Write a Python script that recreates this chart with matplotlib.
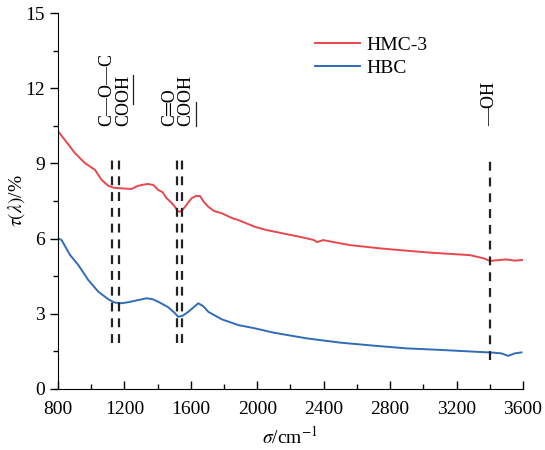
import matplotlib
matplotlib.use("Agg")
import matplotlib.pyplot as plt
from matplotlib.ticker import MultipleLocator

# 读图估计的数据（波数 / cm^-1, 透过率 %）
hmc_x = [800, 842, 902, 963, 1023, 1063, 1100, 1133, 1190, 1243, 1280, 1304,
         1340, 1374, 1404, 1430, 1454, 1480, 1504, 1520, 1534, 1550, 1565,
         1585, 1605, 1630, 1655, 1680, 1705, 1740, 1786, 1855, 1886, 1986,
         2056, 2160, 2257, 2337, 2360, 2397, 2558, 2739, 2859, 3040, 3280,
         3360, 3401, 3450, 3501, 3550, 3601]
hmc_y = [10.29, 9.93, 9.41, 9.01, 8.74, 8.34, 8.12, 8.03, 8.00, 7.98, 8.10, 8.14,
         8.18, 8.14, 7.94, 7.85, 7.61, 7.45, 7.27, 7.10, 7.07, 7.15, 7.27,
         7.45, 7.61, 7.70, 7.70, 7.45, 7.27, 7.10, 7.01, 6.80, 6.74, 6.47,
         6.34, 6.20, 6.07, 5.95, 5.86, 5.94, 5.74, 5.61, 5.54, 5.44, 5.34,
         5.22, 5.11, 5.14, 5.17, 5.12, 5.15]

hbc_x = [800, 822, 872, 922, 982, 1043, 1103, 1140, 1183, 1230, 1264, 1334,
         1370, 1404, 1464, 1500, 1524, 1550, 1585, 1615, 1645, 1675, 1705,
         1786, 1886, 1986, 2096, 2297, 2498, 2698, 2899, 3100, 3300, 3421,
         3470, 3511, 3550, 3591]
hbc_y = [6.01, 5.94, 5.35, 4.95, 4.35, 3.88, 3.58, 3.45, 3.42, 3.47, 3.52, 3.62,
         3.58, 3.48, 3.26, 3.05, 2.88, 2.92, 3.08, 3.25, 3.42, 3.30, 3.08,
         2.78, 2.55, 2.42, 2.25, 2.02, 1.85, 1.73, 1.62, 1.56, 1.49, 1.45,
         1.42, 1.32, 1.42, 1.46]

# 特征峰位置与标注
peak_x = [1127, 1169, 1514, 1548, 3400]
peak_ymin = [1.83, 1.83, 1.83, 1.83, 1.15]
peak_ymax = [9.3, 9.3, 9.3, 9.3, 9.35]
label_text = ["C\u2014O\u2014C", "COOH", "C\u2550O", "COOH", "\u2014OH"]
label_x = [1095, 1197, 1474, 1571, 3401]

plt.rcParams.update({
    "font.family": ["Liberation Serif", "DejaVu Serif"],
    "mathtext.fontset": "stix",
    "font.size": 14,
})

fig = plt.figure(figsize=(5.45, 4.5), dpi=100)
ax = fig.add_axes([0.1064, 0.1356, 0.8532, 0.8355])

ax.plot(hmc_x, hmc_y, color="#E8474E", lw=1.4, label="HMC-3")
ax.plot(hbc_x, hbc_y, color="#2F6DB8", lw=1.4, label="HBC")

for px, y0, y1 in zip(peak_x, peak_ymin, peak_ymax):
    ax.vlines(px, y0, y1, colors="#222222", linestyles=(0, (4, 3.1)), lw=1.6)

texts = []
for lx, s in zip(label_x, label_text):
    t = ax.text(lx, 10.5, s, rotation=90, ha="center", va="bottom",
                fontsize=13)
    texts.append(t)

ax.set_xlim(800, 3600)
ax.set_ylim(0, 15)
ax.xaxis.set_major_locator(MultipleLocator(400))
ax.xaxis.set_minor_locator(MultipleLocator(200))
ax.yaxis.set_major_locator(MultipleLocator(3))
ax.yaxis.set_minor_locator(MultipleLocator(1.5))
ax.tick_params(axis="x", which="both", direction="in", pad=9)
ax.tick_params(axis="y", which="both", direction="out")
ax.tick_params(which="major", length=6, width=1)
ax.tick_params(which="minor", length=3.5, width=1)
ax.tick_params(labelsize=14)
for side in ("top", "right"):
    ax.spines[side].set_visible(False)

ax.set_xlabel(r"$\sigma$/cm$^{-1}$", fontsize=14, labelpad=5)
ax.set_ylabel(r"$\tau(\lambda)$/%", fontsize=14)
ax.yaxis.set_label_coords(-0.066, 0.5)

ax.legend(loc="upper left", bbox_to_anchor=(0.515, 0.985), frameon=False,
          fontsize=14, handlelength=2.3, handletextpad=0.35, labelspacing=0.3)

# COOH 下划线（第一个划 OH，第二个划 CO）
fig.canvas.draw()
inv = fig.transFigure.inverted()
for t, (f0, f1) in zip([texts[1], texts[3]], [(0.42, 1.0), (0.0, 0.47)]):
    bb = t.get_window_extent()
    xr = bb.x1 + 1
    ya = bb.y0 + f0 * bb.height
    yb = bb.y0 + f1 * bb.height
    (x0, y0), (x1, y1) = inv.transform([(xr, ya), (xr, yb)])
    fig.add_artist(plt.Line2D([x0, x1], [y0, y1], color="#222222", lw=0.9))

fig.savefig("out.png", dpi=100)
